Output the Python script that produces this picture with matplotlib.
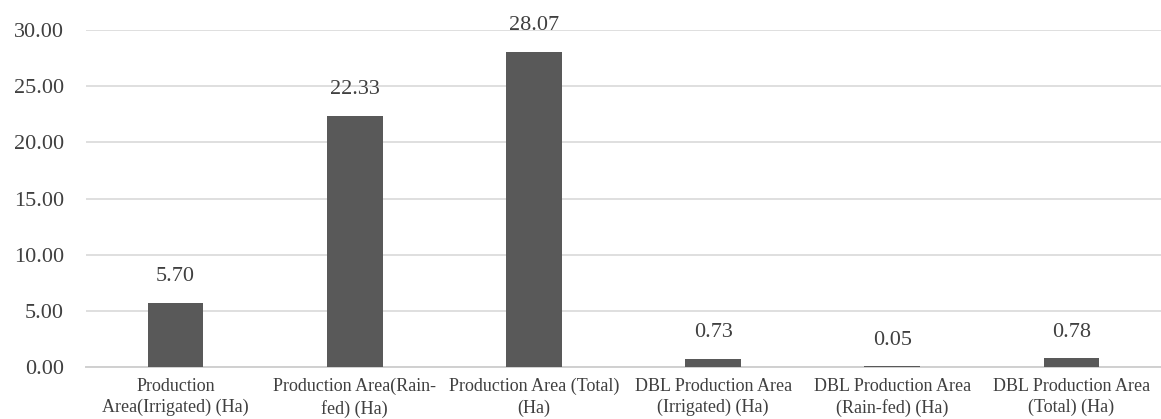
import matplotlib
matplotlib.use("Agg")
import matplotlib.pyplot as plt

categories = [
    "Production\nArea(Irrigated) (Ha)",
    "Production Area(Rain-\nfed) (Ha)",
    "Production Area (Total)\n(Ha)",
    "DBL Production Area\n(Irrigated) (Ha)",
    "DBL Production Area\n(Rain-fed) (Ha)",
    "DBL Production Area\n(Total) (Ha)",
]
values = [5.70, 22.33, 28.07, 0.73, 0.05, 0.78]
y_ticks = [0, 5, 10, 15, 20, 25, 30]

plt.rcParams['font.family'] = ['Liberation Serif', 'DejaVu Serif']
text_color = '#404040'

fig = plt.figure(figsize=(11.61, 4.19), dpi=100)
ax = fig.add_axes([86 / 1161, 52 / 419, 1 - 86 / 1161, (367 - 30) / 419])

x = list(range(len(categories)))
ax.bar(x, values, width=0.31, color='#595959', zorder=3)

# value labels above each bar
for xi, v in zip(x, values):
    ax.annotate(f"{v:.2f}", (xi, v), xytext=(0, 12), textcoords='offset points',
                ha='center', va='bottom', fontsize=16, color=text_color)

ax.set_xlim(-0.5, len(categories) - 0.5)
ax.set_ylim(0, 30)
ax.set_yticks(y_ticks)
ax.set_yticklabels([f"{t:.2f}" for t in y_ticks], fontsize=16, color=text_color)
ax.set_xticks(x)
ax.set_xticklabels(categories, fontsize=13, color=text_color, linespacing=1.3)

ax.yaxis.grid(True, color='#d9d9d9', linewidth=1.2, zorder=0)
for side in ['top', 'right', 'left']:
    ax.spines[side].set_visible(False)
ax.spines['bottom'].set_color('#d0d0d0')
ax.spines['bottom'].set_linewidth(1.4)
ax.tick_params(axis='both', length=0)
ax.tick_params(axis='y', pad=16)
ax.tick_params(axis='x', pad=8)

fig.savefig('out.png', dpi=100)
plt.close(fig)
